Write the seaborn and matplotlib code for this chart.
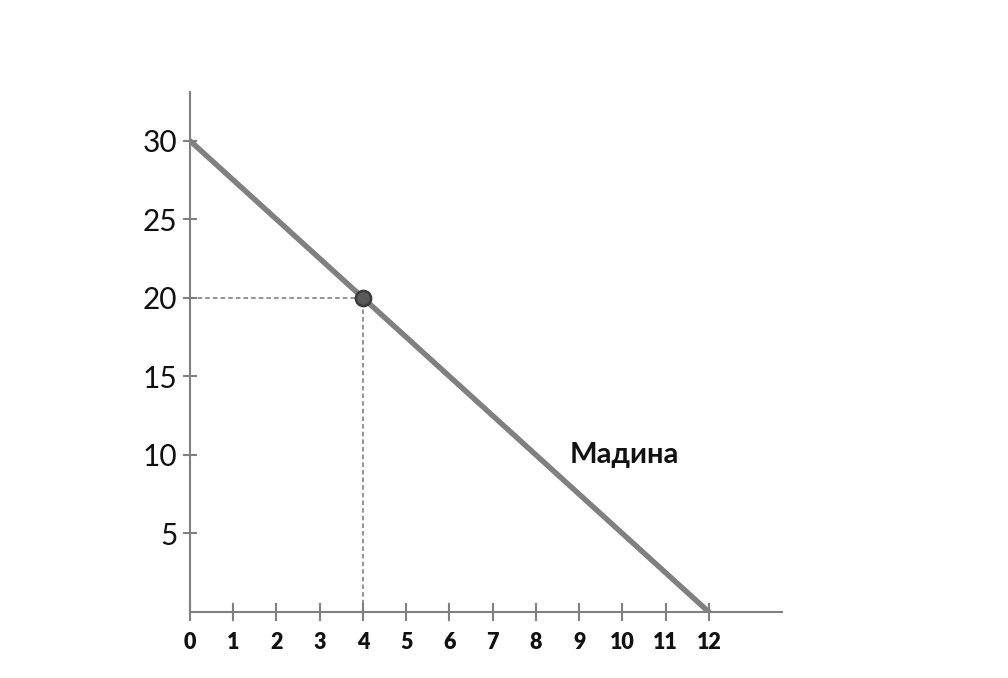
import matplotlib
matplotlib.use("Agg")
import matplotlib.pyplot as plt
import matplotlib.patheffects as pe
import pandas as pd
import seaborn as sns

# budget line data
line_x = [0, 12]
line_y = [30, 0]
point_x = [4]
point_y = [20]
x_ticks = list(range(0, 13))
y_ticks = [5, 10, 15, 20, 25, 30]
label_text = "Мадина"

sns.set_style("white")
plt.rcParams["font.family"] = ["Lato", "DejaVu Sans"]

fig = plt.figure(figsize=(10.08, 6.78), dpi=100)
ax = fig.add_axes([0.1885, 0.0973, 0.5873, 0.767])

df_line = pd.DataFrame({"x": line_x, "y": line_y})
df_pt = pd.DataFrame({"x": point_x, "y": point_y})

# dashed guides to the point
ax.plot([0, point_x[0]], [point_y[0], point_y[0]], ls=(0, (3, 2)), color="#777777", lw=1.1)
ax.plot([point_x[0], point_x[0]], [0, point_y[0]], ls=(0, (3, 2)), color="#777777", lw=1.1)

sns.lineplot(data=df_line, x="x", y="y", ax=ax, color="#808080", linewidth=3.8,
             path_effects=[pe.SimpleLineShadow(offset=(1.5, -1.5), alpha=0.25), pe.Normal()])
sns.scatterplot(data=df_pt, x="x", y="y", ax=ax, s=120, color="#5a5a5a",
                edgecolor="#3a3a3a", linewidth=1.8, zorder=5)

ax.text(10.05, 10, label_text, fontsize=21, fontweight="bold", ha="center", va="center",
        color="#111111")

ax.set_xlim(0, 13.69)
ax.set_ylim(0, 33.1)
ax.set_xticks(x_ticks)
ax.set_yticks(y_ticks)
ax.set_xticklabels([str(t) for t in x_ticks], fontsize=15.5, fontweight="heavy")
ax.set_yticklabels([str(t) for t in y_ticks], fontsize=21.5)
ax.set_xlabel("")
ax.set_ylabel("")

for side in ["top", "right"]:
    ax.spines[side].set_visible(False)
for side in ["left", "bottom"]:
    ax.spines[side].set_color("#808080")
    ax.spines[side].set_linewidth(1.5)

ax.tick_params(axis="x", direction="inout", length=13, width=1.5, color="#808080", pad=8,
               bottom=True, labelcolor="#111111")
ax.tick_params(axis="y", direction="inout", length=10, width=1.5, color="#808080", pad=4,
               left=True, labelcolor="#111111")

fig.savefig("out.png", dpi=100)
